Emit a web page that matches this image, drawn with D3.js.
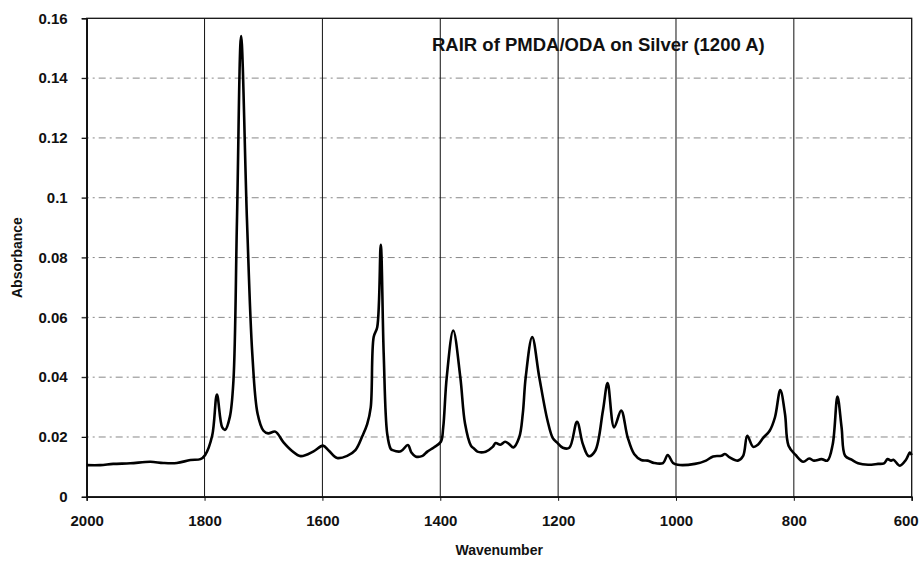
<!DOCTYPE html>
<html>
<head>
<meta charset="utf-8">
<script src="https://cdn.jsdelivr.net/npm/d3@7"></script>
<style>
html,body{margin:0;padding:0;background:#fff;}
svg{display:block;}
text{font-family:Arial,"Liberation Sans",sans-serif;font-weight:bold;fill:#111;}
</style>
</head>
<body>
<svg id="chart" width="923" height="562"></svg>
<script>
const title = "RAIR of PMDA/ODA on Silver (1200 A)";
const xLabel = "Wavenumber";
const yLabel = "Absorbance";
const xTicks = [2000, 1800, 1600, 1400, 1200, 1000, 800, 600];
const yTicks = [0, 0.02, 0.04, 0.06, 0.08, 0.1, 0.12, 0.14, 0.16];
const yTickLabels = ["0", "0.02", "0.04", "0.06", "0.08", "0.1", "0.12", "0.14", "0.16"];

const wavenumber = [2000,1977,1955,1926,1892,1870,1847,1824,1807,1799,1787,1779,1770,1765,1757,1751,1745,1738,1728,1719,1710,1700,1692,1680,1666,1652,1637,1615,1599,1589,1575,1558,1544,1532,1524,1518,1513,1507,1501,1496,1490,1484,1481,1467,1455,1449,1442,1430,1422,1411,1399,1395,1389,1378,1366,1358,1348,1342,1337,1323,1311,1306,1298,1290,1283,1276,1266,1260,1255,1244,1232,1218,1209,1202,1192,1181,1168,1158,1148,1137,1124,1116,1105,1093,1082,1071,1059,1048,1037,1022,1014,1005,997,968,949,937,923,917,909,895,886,879,869,861,852,841,832,823,815,809,797,784,774,766,753,743,734,726,719,713,702,691,674,657,647,641,635,631,620,610,603,600];
const absorbance = [0.0106,0.0106,0.0110,0.0112,0.0117,0.0113,0.0113,0.0123,0.0126,0.0140,0.0205,0.0342,0.0232,0.0224,0.0268,0.0388,0.0924,0.1541,0.0924,0.0479,0.0278,0.0221,0.0212,0.0218,0.0182,0.0154,0.0136,0.0152,0.0171,0.0154,0.0130,0.0137,0.0156,0.0204,0.0243,0.0299,0.0534,0.0567,0.0843,0.0478,0.0210,0.0160,0.0156,0.0152,0.0173,0.0148,0.0135,0.0137,0.0151,0.0165,0.0184,0.0232,0.0400,0.0556,0.0400,0.0245,0.0171,0.0160,0.0151,0.0151,0.0167,0.0180,0.0174,0.0184,0.0176,0.0165,0.0199,0.0277,0.0400,0.0534,0.0400,0.0255,0.0196,0.0182,0.0164,0.0164,0.0251,0.0176,0.0136,0.0154,0.0288,0.0380,0.0232,0.0288,0.0199,0.0143,0.0123,0.0121,0.0113,0.0113,0.0140,0.0113,0.0107,0.0110,0.0121,0.0135,0.0137,0.0143,0.0132,0.0121,0.0137,0.0204,0.0167,0.0174,0.0197,0.0221,0.0266,0.0357,0.0277,0.0171,0.0140,0.0117,0.0128,0.0121,0.0126,0.0121,0.0176,0.0335,0.0232,0.0137,0.0124,0.0112,0.0107,0.0110,0.0112,0.0126,0.0121,0.0124,0.0104,0.0123,0.0148,0.0140];

const svg = d3.select("#chart");
const pLeft = 86.7, pRight = 911.7, pTop = 18.3, pBottom = 496.8;

const x = d3.scaleLinear().domain([2000, 600]).range([pLeft, pRight]);
const y = d3.scaleLinear().domain([0, 0.16]).range([pBottom, pTop]);

// horizontal gridlines (dash-dot, faint)
svg.append("g").selectAll("line")
  .data(yTicks.filter(v => v > 0 && v < 0.16))
  .join("line")
  .attr("x1", pLeft - 5).attr("x2", pRight)
  .attr("y1", d => y(d)).attr("y2", d => y(d))
  .attr("stroke", "#888").attr("stroke-width", 1)
  .attr("stroke-dasharray", "7,4,2,4");

// vertical gridlines (solid)
svg.append("g").selectAll("line")
  .data(xTicks.filter(v => v < 2000 && v > 600))
  .join("line")
  .attr("x1", d => x(d)).attr("x2", d => x(d))
  .attr("y1", pTop).attr("y2", pBottom)
  .attr("stroke", "#111").attr("stroke-width", 1);

// frame
svg.append("rect")
  .attr("x", pLeft).attr("y", pTop)
  .attr("width", pRight - pLeft).attr("height", pBottom - pTop)
  .attr("fill", "none").attr("stroke", "#111").attr("stroke-width", 1.3);

// Y axis
const yAxis = d3.axisLeft(y).tickValues(yTicks)
  .tickFormat((d, i) => yTickLabels[i]).tickSize(5).tickPadding(14);
const gy = svg.append("g").attr("transform", `translate(${pLeft},0)`).call(yAxis);
gy.select(".domain").attr("stroke", "#111").attr("stroke-width", 1.6);
gy.selectAll(".tick line").attr("stroke", "#111");
gy.selectAll(".tick text").attr("font-size", 15).attr("font-family", "Arial, 'Liberation Sans', sans-serif").attr("font-weight", "bold").attr("fill", "#111");

// X axis
const xAxis = d3.axisBottom(x).tickValues(xTicks).tickFormat(d3.format("d")).tickSize(4).tickPadding(15);
const gx = svg.append("g").attr("transform", `translate(0,${pBottom})`).call(xAxis);
gx.select(".domain").attr("stroke", "#111").attr("stroke-width", 1.6);
gx.selectAll(".tick line").attr("stroke", "#111");
gx.selectAll(".tick text").attr("font-size", 15).attr("font-family", "Arial, 'Liberation Sans', sans-serif").attr("font-weight", "bold").attr("fill", "#111");
gx.selectAll(".tick text").filter(d => d === 600).attr("dx", -6);

// spectrum line
const data = wavenumber.map((w, i) => ({w, a: absorbance[i]}));
const line = d3.line().x(d => x(d.w)).y(d => y(d.a)).curve(d3.curveCatmullRom.alpha(0.5));
svg.append("path").datum(data)
  .attr("d", line).attr("fill", "none")
  .attr("stroke", "#000").attr("stroke-width", 2.6)
  .attr("stroke-linejoin", "round");

// title
svg.append("text").attr("x", 432).attr("y", 51)
  .attr("font-size", 18.5).text(title);

// axis labels
svg.append("text").attr("x", (pLeft + pRight) / 2).attr("y", 555)
  .attr("text-anchor", "middle").attr("font-size", 14).text(xLabel);
svg.append("text")
  .attr("transform", `translate(22,${(pTop + pBottom) / 2}) rotate(-90)`)
  .attr("text-anchor", "middle").attr("font-size", 14).text(yLabel);
</script>
</body>
</html>
